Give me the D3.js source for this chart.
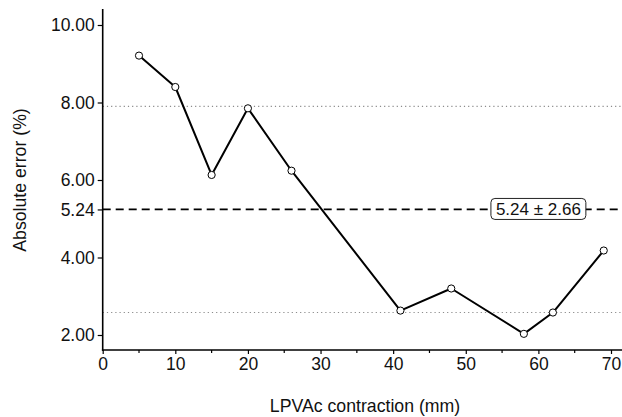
<!DOCTYPE html>
<html>
<head>
<meta charset="utf-8">
<script src="https://cdn.jsdelivr.net/npm/d3@7"></script>
<style>
  html, body { margin: 0; padding: 0; background: #fff; }
  svg { display: block; font-family: "Liberation Sans", Arial, sans-serif; }
</style>
</head>
<body>
<svg id="chart" width="622" height="417"></svg>
<script>
// Contraction (mm) and absolute error (%) per measurement
const contraction = [5, 10, 15, 20, 26, 41, 48, 58, 62, 69];
const absError = [9.21, 8.40, 6.13, 7.85, 6.24, 2.63, 3.20, 2.03, 2.58, 4.18];

// Summary statistics
const meanValue = 5.24;
const sdValue = 2.66;

const yTickValues = [2, 4, meanValue, 6, 8, 10];
const xTickValues = [0, 10, 20, 30, 40, 50, 60, 70];
const xMinorTicks = [5, 15, 25, 35, 45, 55, 65];

const svg = d3.select("#chart");
const W = 622, H = 417;
const margin = { left: 102.7, right: 0, top: 9, bottom: 67 };
const FONT = 17.5;

const x = d3.scaleLinear().domain([0, 70]).range([margin.left, 611]);
const y = d3.scaleLinear().domain([2, 10]).range([335, 25]);
const yBottom = H - margin.bottom;

// Mean ± SD reference lines
svg.selectAll("line.sd")
  .data([meanValue + sdValue, meanValue - sdValue])
  .join("line")
  .attr("class", "sd")
  .attr("x1", margin.left).attr("x2", W)
  .attr("y1", d => y(d)).attr("y2", d => y(d))
  .attr("stroke", "#8c8c8c").attr("stroke-width", 1.1)
  .attr("stroke-dasharray", "1.2,3");

svg.append("line")
  .attr("x1", margin.left).attr("x2", W)
  .attr("y1", y(meanValue)).attr("y2", y(meanValue))
  .attr("stroke", "#000").attr("stroke-width", 1.8)
  .attr("stroke-dasharray", "8,5");

// Y axis
const yAxis = d3.axisLeft(y)
  .tickValues(yTickValues)
  .tickFormat(d3.format(".2f"))
  .tickSizeOuter(0)
  .tickSize(5)
  .tickPadding(3);
const gy = svg.append("g").attr("transform", `translate(${margin.left},0)`).call(yAxis);
gy.select(".domain").remove();
gy.append("line")
  .attr("x1", 0).attr("x2", 0)
  .attr("y1", margin.top).attr("y2", yBottom + 0.8)
  .attr("stroke", "#000").attr("stroke-width", 1.6);
gy.selectAll(".tick line").attr("stroke", "#000").attr("stroke-width", 1.2);
gy.selectAll(".tick text").attr("font-size", FONT).attr("fill", "#111")
  .attr("font-family", "Liberation Sans, Arial, sans-serif");

// X axis
const xAxis = d3.axisBottom(x)
  .tickValues(xTickValues)
  .tickSizeOuter(0)
  .tickSize(4)
  .tickPadding(4);
const gx = svg.append("g").attr("transform", `translate(0,${yBottom})`).call(xAxis);
gx.select(".domain").remove();
gx.append("line")
  .attr("x1", margin.left - 0.8).attr("x2", W)
  .attr("y1", 0).attr("y2", 0)
  .attr("stroke", "#000").attr("stroke-width", 1.6);
gx.selectAll(".tick line").attr("stroke", "#000").attr("stroke-width", 1.2);
gx.selectAll(".tick text").attr("font-size", FONT).attr("fill", "#111")
  .attr("font-family", "Liberation Sans, Arial, sans-serif");
gx.selectAll("line.minor")
  .data(xMinorTicks)
  .join("line")
  .attr("class", "minor")
  .attr("x1", d => x(d)).attr("x2", d => x(d))
  .attr("y1", 0).attr("y2", 3)
  .attr("stroke", "#000").attr("stroke-width", 1.2);

// Axis titles
svg.append("text")
  .attr("x", 365)
  .attr("y", 412)
  .attr("text-anchor", "middle")
  .attr("font-size", 17.7)
  .attr("fill", "#111")
  .text("LPVAc contraction (mm)");

svg.append("text")
  .attr("transform", `translate(26,180) rotate(-90)`)
  .attr("text-anchor", "middle")
  .attr("font-size", 17.7)
  .attr("fill", "#111")
  .text("Absolute error (%)");

// Data line and markers
const pts = contraction.map((c, i) => [c, absError[i]]);
svg.append("path")
  .datum(pts)
  .attr("fill", "none")
  .attr("stroke", "#000")
  .attr("stroke-width", 2)
  .attr("stroke-linejoin", "round")
  .attr("d", d3.line().x(d => x(d[0])).y(d => y(d[1])));

svg.selectAll("circle.pt")
  .data(pts)
  .join("circle")
  .attr("class", "pt")
  .attr("cx", d => x(d[0]))
  .attr("cy", d => y(d[1]))
  .attr("r", 3.6)
  .attr("fill", "#fff")
  .attr("stroke", "#000")
  .attr("stroke-width", 1);

// Mean ± SD label
const labelText = `${meanValue.toFixed(2)} \u00B1 ${sdValue.toFixed(2)}`;
const lg = svg.append("g").attr("transform", `translate(${x(60)},${y(meanValue)})`);
const lt = lg.append("text")
  .attr("text-anchor", "middle")
  .attr("dy", "0.35em")
  .attr("font-size", 17)
  .attr("fill", "#111")
  .text(labelText);
const bb = lt.node().getBBox();
lg.insert("rect", "text")
  .attr("x", bb.x - 5).attr("y", -11)
  .attr("width", bb.width + 10).attr("height", 21)
  .attr("rx", 4).attr("ry", 4)
  .attr("fill", "#fff")
  .attr("stroke", "#222")
  .attr("stroke-width", 1);
</script>
</body>
</html>
